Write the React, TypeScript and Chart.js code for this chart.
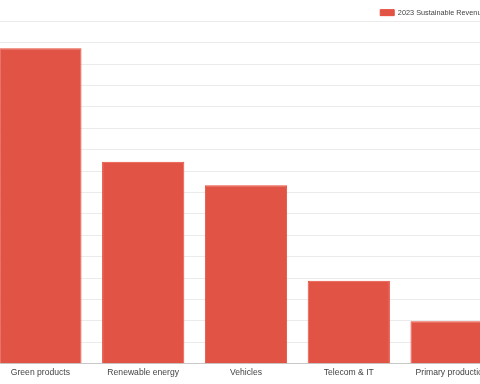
import React, { useEffect, useRef } from "react";
import { Chart, registerables } from "chart.js";

Chart.register(...registerables);

const categories = ["Green products", "Renewable energy", "Vehicles", "Telecom & IT", "Primary production"];
const seriesLabel = "2023 Sustainable Revenue";
const revenue2023 = [73.7, 47.2, 41.7, 19.4, 9.9];
const yMin = 0;
const yMax = 80;
const yStep = 5;

const FONT = "Arial, 'Liberation Sans', sans-serif";

// nudges the legend box after layout (layout offset only)
const legendNudge = {
  id: "legendNudge",
  afterLayout(chart: any) {
    const lg = chart.legend;
    if (!lg) return;
    const dx = -13.5;
    const dy = 5;
    lg.left += dx;
    lg.right += dx;
    lg.top += dy;
    lg.bottom += dy;
  },
};

export default function App() {
  const ref = useRef<HTMLCanvasElement | null>(null);

  useEffect(() => {
    if (!ref.current) return;
    const chart = new Chart(ref.current, {
      type: "bar",
      data: {
        labels: categories,
        datasets: [
          {
            label: seriesLabel,
            data: revenue2023,
            backgroundColor: "rgb(225, 83, 68)",
            borderColor: "rgb(232, 76, 60)",
            borderWidth: 1,
            categoryPercentage: 0.8,
            barPercentage: 1.0,
          },
        ],
      },
      options: {
        responsive: false,
        animation: false,
        layout: { padding: { left: 0, right: 6, top: 0, bottom: 2 } },
        plugins: {
          legend: {
            position: "top",
            align: "end",
            labels: {
              boxWidth: 14,
              boxHeight: 6,
              padding: 4,
              color: "#444",
              font: { family: FONT, size: 7.3 },
            },
          },
          tooltip: { enabled: false },
        },
        scales: {
          x: {
            grid: { display: false, drawTicks: false },
            border: { display: true, color: "#c8c8c8" },
            ticks: {
              color: "#444",
              padding: 4,
              font: { family: FONT, size: 8.6 },
              maxRotation: 0,
            },
          },
          y: {
            min: yMin,
            max: yMax,
            ticks: { display: false, stepSize: yStep },
            border: { display: false },
            grid: { color: "#ebebeb", drawTicks: false },
          },
        },
      },
      plugins: [legendNudge],
    });
    return () => chart.destroy();
  }, []);

  return (
    <div style={{ position: "fixed", left: 0, top: 0, width: 480, height: 384, overflow: "hidden", background: "#fff" }}>
      <canvas
        ref={ref}
        width={520}
        height={384}
        style={{ position: "absolute", left: -11, top: 0, width: 520, height: 384 }}
      />
    </div>
  );
}
